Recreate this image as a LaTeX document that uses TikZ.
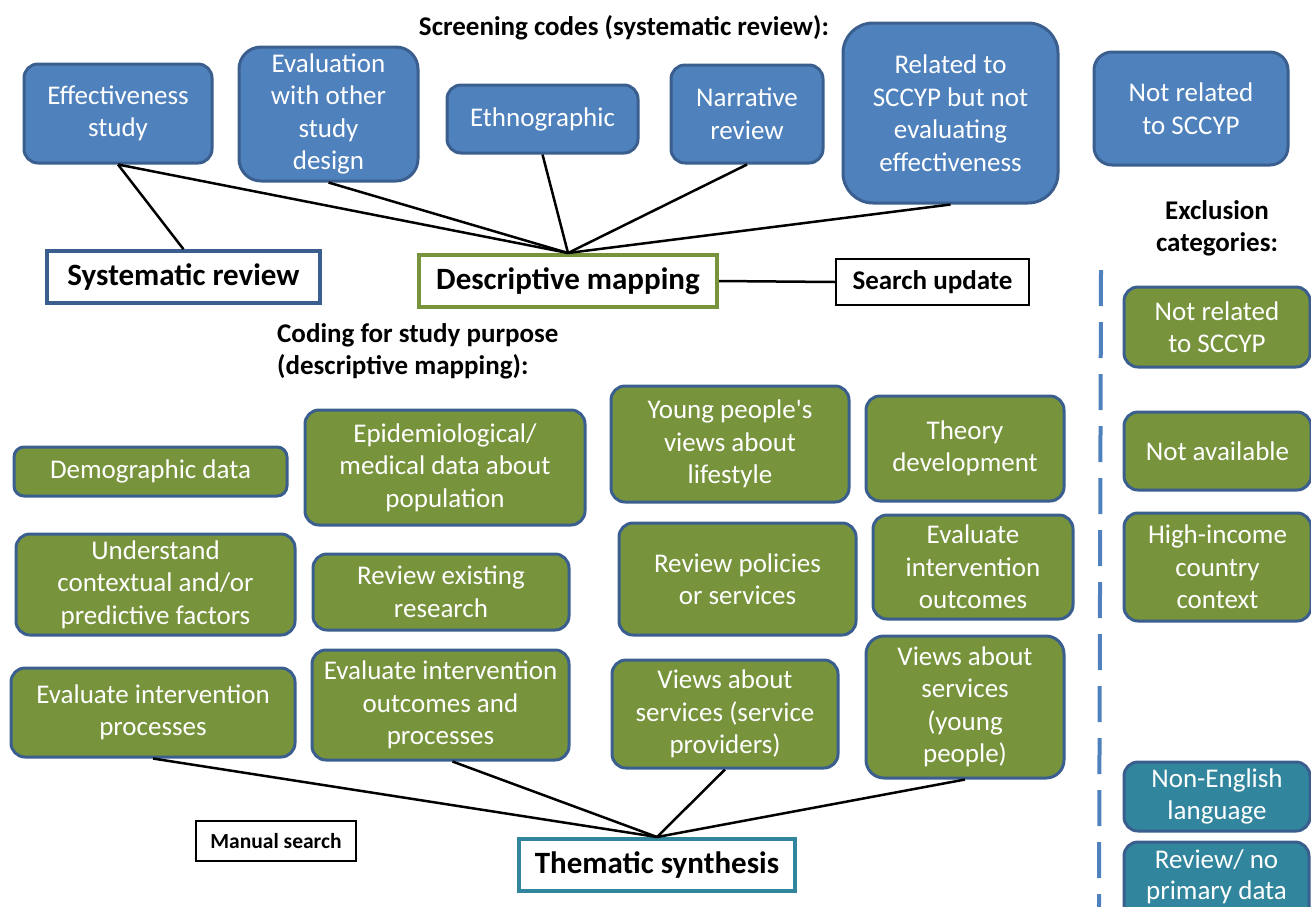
\documentclass[tikz,border=0pt]{standalone}
\usepackage{fontspec}
\setmainfont{Carlito}
\definecolor{bfill}{HTML}{4F81BD}
\definecolor{bline}{HTML}{3A5F8F}
\definecolor{gfill}{HTML}{77933C}
\definecolor{tfill}{HTML}{31859C}
\begin{document}
\begin{tikzpicture}[x=1pt,y=-1pt,
  box/.style={draw=bline,line width=3pt,rounded corners=14pt,text=white,align=center,inner sep=0pt,
    font=\fontsize{27}{32.5}\selectfont},
  bluebox/.style={box,fill=bfill},
  greenbox/.style={box,fill=gfill},
  tealbox/.style={box,fill=tfill},
  mainbox/.style={fill=white,line width=3.5pt,inner sep=0pt,font=\fontsize{31}{34}\selectfont\bfseries},
  smallbox/.style={draw=black,line width=1.2pt,fill=white,inner sep=0pt,font=\bfseries},
  title/.style={font=\fontsize{27}{32}\selectfont\bfseries,inner sep=0pt},
  conn/.style={draw=black,line width=2.5pt}]
\useasboundingbox (0,0) rectangle (1311,906);
\clip (0,0) rectangle (1311,906);
% screening codes
\node[title] (t1) at (624,28) {Screening codes (systematic review):};
\node[bluebox,minimum width=188,minimum height=99] (eff) at (118,113.5) {Effectiveness\\study};
\node[bluebox,minimum width=179,minimum height=134,rounded corners=22pt] (eval) at (328.5,114) {Evaluation\\with other\\study\\design};
\node[bluebox,minimum width=191,minimum height=68] (eth) at (542.5,119) {Ethnographic};
\node[bluebox,minimum width=152,minimum height=98] (narr) at (747,114) {Narrative\\review};
\node[bluebox,minimum width=215,minimum height=180,rounded corners=30pt] (rel) at (950.5,113) {Related to\\SCCYP but not\\evaluating\\effectiveness};
\node[bluebox,minimum width=194,minimum height=113,rounded corners=18pt] (notrel) at (1191,108.5) {Not related\\to SCCYP};
% main boxes
\node[mainbox,draw=bline,minimum width=273,minimum height=52] (sysrev) at (183.5,277) {Systematic review};
\node[mainbox,draw=gfill,line width=4pt,minimum width=298,minimum height=52] (descmap) at (568,281) {Descriptive mapping};
\node[smallbox,minimum width=193,minimum height=46,font=\fontsize{27}{30}\selectfont\bfseries] (search) at (932.5,282) {Search update};
\draw[conn] (eff.south) -- (sysrev.north);
\draw[conn] (eff.south) -- (descmap.north);
\draw[conn] (eval.south) -- (descmap.north);
\draw[conn] (eth.south) -- (descmap.north);
\draw[conn] (narr.south) -- (descmap.north);
\draw[conn] (rel.south) -- (descmap.north);
\draw[conn] (descmap.east) -- (search.west);
% coding
\node[title,align=left,anchor=north west] (t2) at (277,323) {Coding for study purpose\\(descriptive mapping):};
\node[greenbox,minimum width=273,minimum height=49,rounded corners=10pt] (demo) at (150.5,471.5) {Demographic data};
\node[greenbox,minimum width=280,minimum height=115] (epi) at (445,467.5) {Epidemiological/\\medical data about\\population};
\node[greenbox,minimum width=238,minimum height=116] (young) at (730,444) {Young people\textquotesingle s\\views about\\lifestyle};
\node[greenbox,minimum width=198,minimum height=105] (theory) at (965,448.5) {Theory\\development};
\node[greenbox,minimum width=279,minimum height=101] (under) at (155.5,584.5) {Understand\\contextual and/or\\predictive factors};
\node[greenbox,minimum width=256,minimum height=76] (revex) at (441,592) {Review existing\\research};
\node[greenbox,minimum width=237,minimum height=112] (revpol) at (737.5,579) {Review policies\\or services};
\node[greenbox,minimum width=200,minimum height=104] (evout) at (973,567) {Evaluate\\intervention\\outcomes};
\node[greenbox,minimum width=284,minimum height=89] (evproc) at (153,712.5) {Evaluate intervention\\processes};
\node[greenbox,minimum width=257,minimum height=110] (evop) at (440.5,705) {Evaluate intervention\\outcomes and\\processes};
\node[greenbox,minimum width=226,minimum height=108] (vsp) at (725,714) {Views about\\services (service\\providers)};
\node[greenbox,minimum width=198,minimum height=142,rounded corners=18pt] (vyp) at (965,707) {Views about\\services\\(young\\people)};
\node[mainbox,draw=tfill,line width=4pt,minimum width=276,minimum height=52] (them) at (657,865) {Thematic synthesis};
\node[smallbox,minimum width=160,minimum height=40,font=\fontsize{21.5}{24}\selectfont\bfseries] (manual) at (276,841) {Manual search};
\draw[conn] (evproc.south) -- (them.north);
\draw[conn] ([xshift=12pt]evop.south) -- (them.north);
\draw[conn] (vsp.south) -- (them.north);
\draw[conn] (vyp.south) -- (them.north);
% exclusion
\node[title,align=center] (t3) at (1217,228) {Exclusion\\categories:};
\coordinate (dtop) at (1101,270);
\coordinate (dbot) at (1099,910);
\draw[bfill,line width=4pt,dash pattern=on 36pt off 16pt] (dtop) -- (dbot);
\node[greenbox,minimum width=186,minimum height=80] (ex1) at (1217,327) {Not related\\to SCCYP};
\node[greenbox,minimum width=187,minimum height=78] (ex2) at (1217.5,451) {Not available};
\node[greenbox,minimum width=187,minimum height=108] (ex3) at (1217.5,567) {High-income\\country\\context};
\node[tealbox,minimum width=186,minimum height=69] (ex4) at (1217,796.5) {Non-English\\language};
\node[tealbox,minimum width=185,minimum height=104] (ex5) at (1216.5,894) {};
\node[text=white,align=center,inner sep=0pt,font=\fontsize{27}{31}\selectfont] (ex5t) at (1216.5,877) {Review/ no\\primary data};
\end{tikzpicture}
\end{document}
